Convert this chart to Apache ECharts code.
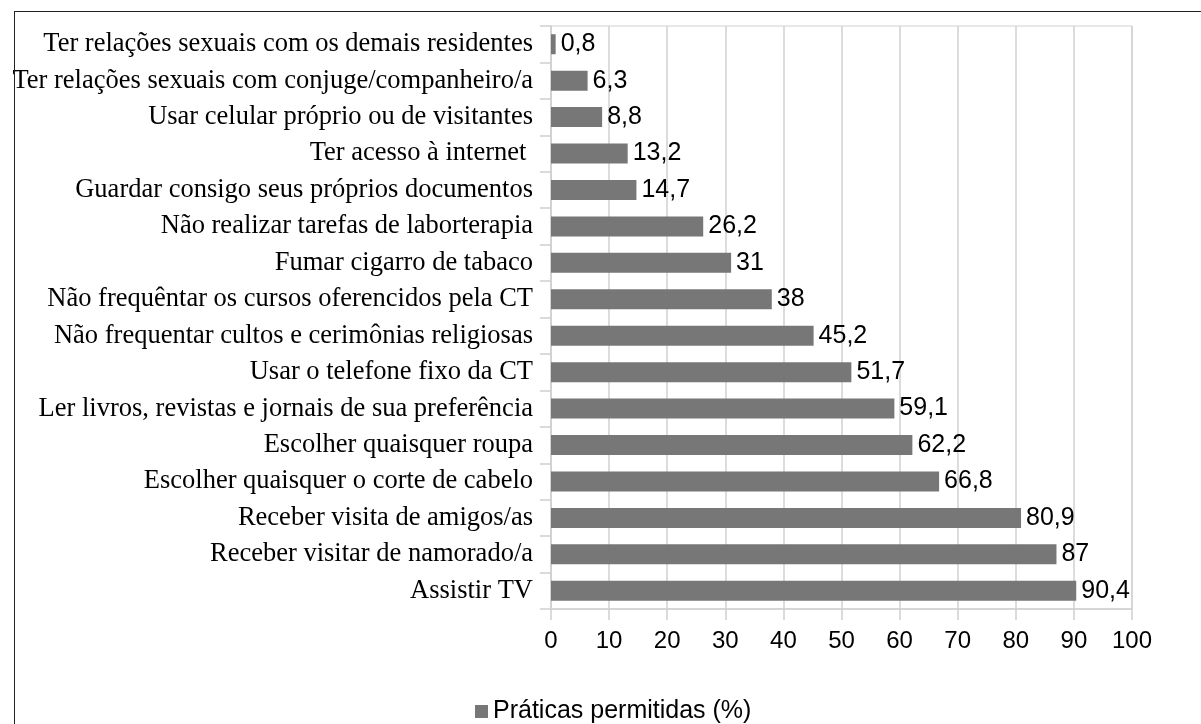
<!DOCTYPE html>
<html>
<head>
<meta charset="utf-8">
<script src="https://cdn.jsdelivr.net/npm/echarts@6/dist/echarts.min.js"></script>
<style>
  html, body { margin: 0; padding: 0; background: #fff; }
  #main { width: 1201px; height: 724px; position: relative; }
  #frame {
    position: absolute; left: 14px; top: 11px; right: -2px; bottom: -2px;
    border-left: 1.5px solid #222; border-top: 1.5px solid #222;
    pointer-events: none;
  }
</style>
</head>
<body>
<div id="main"></div>
<div id="frame"></div>
<script>
const categories = [
  'Ter relações sexuais com os demais residentes',
  'Ter relações sexuais com conjuge/companheiro/a',
  'Usar celular próprio ou de visitantes',
  'Ter acesso à internet ',
  'Guardar consigo seus próprios documentos',
  'Não realizar tarefas de laborterapia',
  'Fumar cigarro de tabaco',
  'Não frequêntar os cursos oferencidos pela CT',
  'Não frequentar cultos e cerimônias religiosas',
  'Usar o telefone fixo da CT',
  'Ler livros, revistas e jornais de sua preferência',
  'Escolher quaisquer roupa',
  'Escolher quaisquer o corte de cabelo',
  'Receber visita de amigos/as',
  'Receber visitar de namorado/a',
  'Assistir TV'
]
const values = [0.8, 6.3, 8.8, 13.2, 14.7, 26.2, 31, 38, 45.2, 51.7, 59.1, 62.2, 66.8, 80.9, 87, 90.4]
const seriesName = 'Práticas permitidas (%)'

const sans = 'Liberation Sans, Arial, sans-serif'
const serif = 'Liberation Serif, Times New Roman, serif'
const gridColor = '#d0d0d0'

const myChart = echarts.init(document.getElementById('main'))

const option = {
  animation: false,
  backgroundColor: '#fff',
  grid: {
    left: 551, top: 26, right: 69, bottom: 115,
    show: true, borderColor: gridColor, borderWidth: 1
  },
  legend: {
    top: 694, left: 470,
    itemWidth: 13, itemHeight: 13, itemGap: 8,
    icon: 'rect',
    textStyle: { fontFamily: sans, fontSize: 25, color: '#000' },
    data: [seriesName]
  },
  xAxis: {
    type: 'value', min: 0, max: 100, interval: 10,
    axisLine: { show: true, lineStyle: { color: gridColor, width: 1.5 } },
    axisTick: { show: true, length: 11, lineStyle: { color: gridColor, width: 1.5 } },
    splitLine: { show: true, lineStyle: { color: gridColor, width: 1.5 } },
    axisLabel: { fontFamily: sans, fontSize: 24, color: '#000', margin: 20 }
  },
  yAxis: {
    type: 'category', inverse: true, data: categories,
    axisLine: { show: true, lineStyle: { color: gridColor, width: 1.5 } },
    axisTick: { show: true, length: 11, lineStyle: { color: gridColor, width: 1.5 } },
    axisLabel: { fontFamily: serif, fontSize: 26.5, color: '#000', margin: 18 }
  },
  series: [{
    name: seriesName,
    type: 'bar',
    data: values,
    barCategoryGap: '45%',
    itemStyle: { color: '#777777' },
    label: {
      show: true, position: 'right', distance: 5,
      fontFamily: sans, fontSize: 25, color: '#000',
      formatter: p => String(p.value).replace('.', ',')
    }
  }]
}

myChart.setOption(option)
</script>
</body>
</html>
